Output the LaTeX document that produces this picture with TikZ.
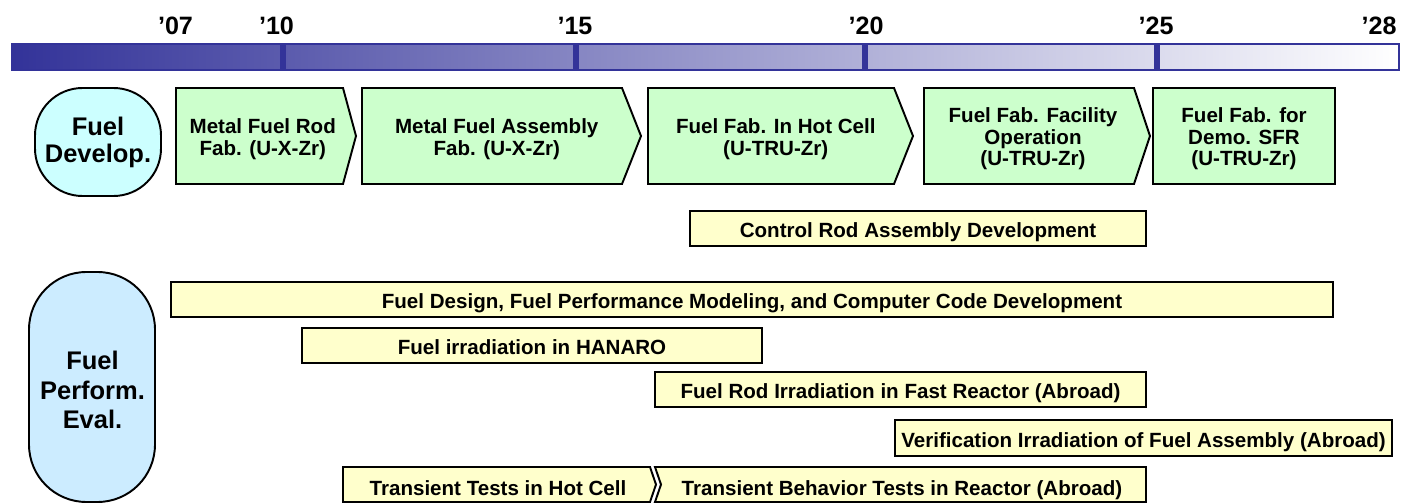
\documentclass[tikz,border=0pt]{standalone}
\usepackage{fontspec}
\setmainfont{Liberation Sans}
\usepackage{tikz}
\usetikzlibrary{positioning}
\usepackage{xcolor}

\definecolor{barblue}{RGB}{51,51,153}
\definecolor{fabgreen}{RGB}{204,255,204}
\definecolor{taskyellow}{RGB}{255,255,204}
\definecolor{devcyan}{RGB}{204,255,255}
\definecolor{evalblue}{RGB}{204,236,255}

\tikzset{
  fabbox/.style={fill=fabgreen, draw=black, line width=1.1pt, line join=miter},
  taskbox/.style={fill=taskyellow, draw=black, line width=1.1pt, line join=miter},
  fieldbox/.style={draw=black, line width=1.1pt},
  yearlabel/.style={inner sep=0pt, font={\fontsize{14.3}{15}\selectfont\bfseries}},
  fabtext/.style={inner sep=0pt, align=center, font={\fontsize{11.7}{12.2}\selectfont\bfseries}},
  tasktext/.style={inner sep=0pt, text height=8.4pt, text depth=0pt, yshift=-1pt, font={\fontsize{11.7}{12.2}\selectfont\bfseries}},
  fieldtext/.style={inner sep=0pt, align=center, font={\fontsize{14.5}{15.5}\selectfont\bfseries}}
}

\begin{document}
\begin{tikzpicture}
\useasboundingbox (0.000000,0.000000) rectangle (28.060000,-10.080000);

%Time axis
\shade[left color=barblue, right color=white] (0.240000,-0.880000) rectangle (27.980000,-1.400000);
\draw[barblue, line width=0.9pt] (0.240000,-0.880000) rectangle (27.980000,-1.400000);
\draw[barblue, line width=3pt] (5.660000,-0.880000) -- (5.660000,-1.400000);
\draw[barblue, line width=3pt] (11.520000,-0.880000) -- (11.520000,-1.400000);
\draw[barblue, line width=3pt] (17.300000,-0.880000) -- (17.300000,-1.400000);
\draw[barblue, line width=3pt] (23.140000,-0.880000) -- (23.140000,-1.400000);

%Years
\node[yearlabel] (y07) at (3.510000,-0.520000) {’07};
\node[yearlabel] (y10) at (5.530000,-0.520000) {’10};
\node[yearlabel] (y15) at (11.500000,-0.520000) {’15};
\node[yearlabel] (y20) at (17.320000,-0.520000) {’20};
\node[yearlabel] (y25) at (23.120000,-0.520000) {’25};
\node[yearlabel] (y28) at (27.580000,-0.520000) {’28};

%Fuel development
\filldraw[fieldbox, fill=devcyan, rounded corners=0.95cm] (0.700000,-1.760000) rectangle (3.220000,-3.920000);
\node[fieldtext, font={\fontsize{14.5}{15.4}\selectfont\bfseries}] (develop) at (1.960000,-2.840000) {Fuel\\Develop.};

%Fabrication step 1
\filldraw[fabbox] (3.520000,-1.760000) -- (6.860000,-1.760000) -- (7.120000,-2.720000) -- (6.860000,-3.680000) -- (3.520000,-3.680000) -- cycle;
\node[fabtext] (rodfab) at (5.255000,-2.780000) {Metal Fuel Rod\\Fab. (U-X-Zr)};

%Fabrication step 2
\filldraw[fabbox] (7.240000,-1.760000) -- (12.440000,-1.760000) -- (12.820000,-2.720000) -- (12.440000,-3.680000) -- (7.240000,-3.680000) -- cycle;
\node[fabtext] (assyfab) at (9.935000,-2.780000) {Metal Fuel Assembly\\Fab. (U-X-Zr)};

%Fabrication step 3
\filldraw[fabbox] (12.960000,-1.760000) -- (17.880000,-1.760000) -- (18.260000,-2.720000) -- (17.880000,-3.680000) -- (12.960000,-3.680000) -- cycle;
\node[fabtext] (hotcellfab) at (15.515000,-2.780000) {Fuel Fab. In Hot Cell\\(U-TRU-Zr)};

%Fabrication step 4
\filldraw[fabbox] (18.480000,-1.760000) -- (22.680000,-1.760000) -- (23.000000,-2.720000) -- (22.680000,-3.680000) -- (18.480000,-3.680000) -- cycle;
\node[fabtext] (facility) at (20.660000,-2.780000) {Fuel Fab. Facility\\Operation\\(U-TRU-Zr)};

%Fabrication step 5
\filldraw[fabbox] (23.060000,-1.760000) rectangle (26.700000,-3.680000);
\node[fabtext] (demofab) at (24.880000,-2.780000) {Fuel Fab. for\\Demo. SFR\\(U-TRU-Zr)};

%Control rod
\filldraw[taskbox] (13.800000,-4.220000) rectangle (22.920000,-4.920000);
\node[tasktext] (controlrod) at (18.360000,-4.570000) {Control Rod Assembly Development};

%Fuel performance evaluation
\filldraw[fieldbox, fill=evalblue, rounded corners=1.15cm] (0.580000,-5.440000) rectangle (3.100000,-10.040000);
\node[fieldtext, font={\fontsize{14.5}{17}\selectfont\bfseries}] (perform) at (1.850000,-7.800000) {Fuel\\Perform.\\Eval.};

%Design and code
\filldraw[taskbox] (3.420000,-5.640000) rectangle (26.660000,-6.340000);
\node[tasktext] (design) at (15.040000,-5.990000) {Fuel Design, Fuel Performance Modeling, and Computer Code Development};

%HANARO
\filldraw[taskbox] (6.040000,-6.560000) rectangle (15.240000,-7.260000);
\node[tasktext] (hanaro) at (10.640000,-6.910000) {Fuel irradiation in HANARO};

%Fast reactor rod
\filldraw[taskbox] (13.100000,-7.440000) rectangle (22.920000,-8.140000);
\node[tasktext] (fastrod) at (18.010000,-7.790000) {Fuel Rod Irradiation in Fast Reactor (Abroad)};

%Assembly verification
\filldraw[taskbox] (17.900000,-8.400000) rectangle (27.840000,-9.120000);
\node[tasktext] (verify) at (22.870000,-8.760000) {Verification Irradiation of Fuel Assembly (Abroad)};

%Transient tests hot cell
\filldraw[taskbox] (6.860000,-9.340000) -- (13.000000,-9.340000) -- (13.120000,-9.690000) -- (13.000000,-10.040000) -- (6.860000,-10.040000) -- cycle;
\node[tasktext] (hotcelltest) at (9.960000,-9.720000) {Transient Tests in Hot Cell};

%Transient tests reactor
\filldraw[taskbox] (13.100000,-9.340000) -- (22.920000,-9.340000) -- (22.920000,-10.040000) -- (13.100000,-10.040000) -- (13.220000,-9.690000) -- cycle;
\node[tasktext] (reactortest) at (18.040000,-9.720000) {Transient Behavior Tests in Reactor (Abroad)};
\end{tikzpicture}
\end{document}
